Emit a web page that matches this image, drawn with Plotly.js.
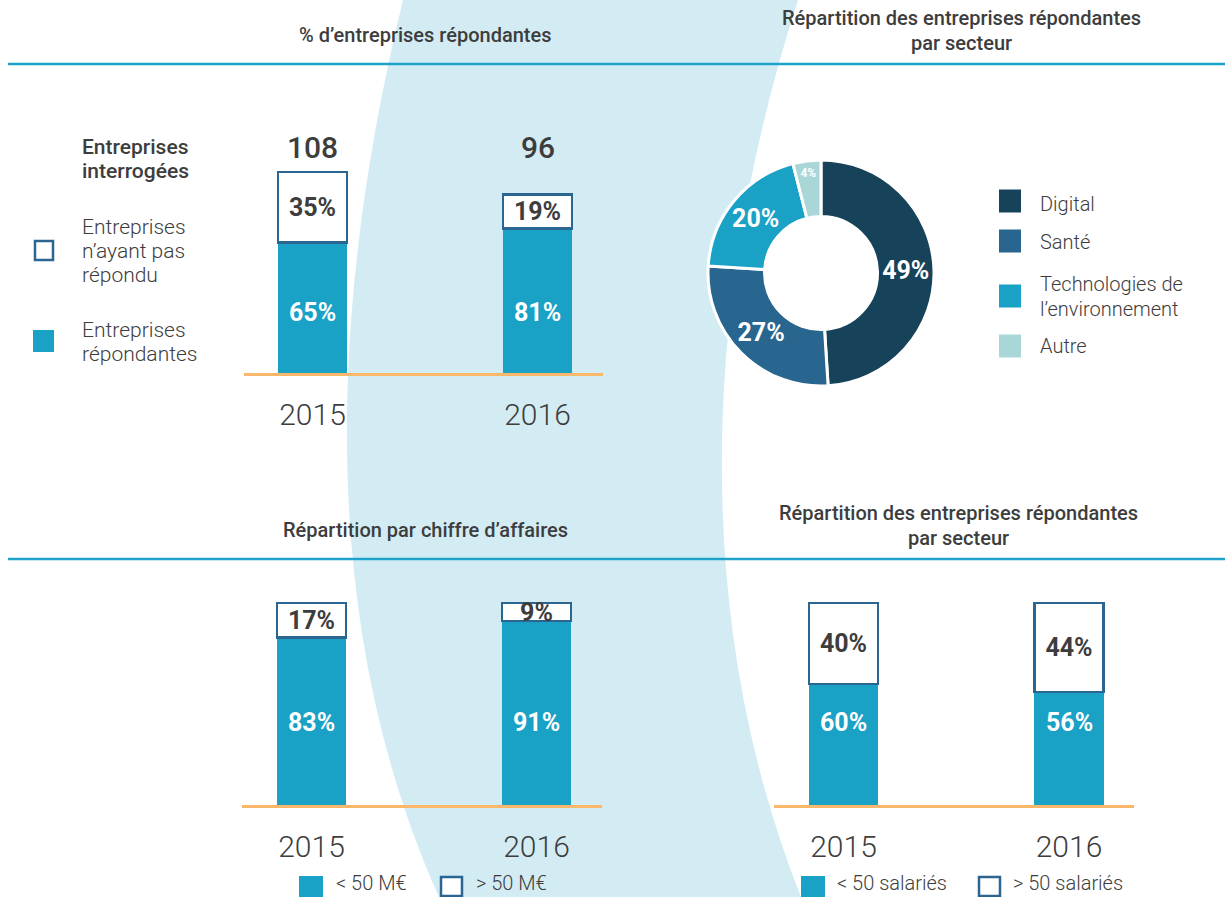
<!DOCTYPE html>
<html>
<head>
<meta charset="utf-8">
<script src="https://cdn.plot.ly/plotly-3.0.1.min.js"></script>
<style>html,body{margin:0;padding:0;background:#fff;}#chart{width:1225px;height:897px;}</style>
</head>
<body>
<div id="chart"></div>
<script>
// ---- DATA ----
const years = ['2015', '2016'];
const surveyedCount = [108, 96];
const respondedPct = [65, 81];
const notRespondedPct = [35, 19];
const sectorLabels = ['Digital', 'Santé', 'Technologies de l’environnement', 'Autre'];
const sectorPct = [49, 27, 20, 4];
const revenueSmallPct = [83, 91];
const revenueLargePct = [17, 9];
const staffSmallPct = [60, 56];
const staffLargePct = [40, 44];

// ---- STYLE ----
const W = 1225, H = 897;
const X = px => px / W;
const Y = py => 1 - py / H;
const FONT = 'Roboto';
const TXT = '#3d3d3d';
const BLUE = '#19a1c6';
const OUTLINE = '#2b6693';
const ORANGE = '#fbb86b';
const TEAL = '#1fa2c9';
const BAND = '#d3ecf3';
const SECTOR_COLORS = ['#16435a', '#28658f', '#19a1c6', '#a9d7d7'];
const LABEL_SIZE = 25;

const pctText = a => a.map(v => v + '%');

function barPair(xa, ya, lowVals, highVals, highPct) {
  return [
    {type: 'bar', x: years, y: lowVals, xaxis: xa, yaxis: ya, width: 0.307,
     marker: {color: BLUE, line: {width: 0}},
     hoverinfo: 'skip', showlegend: false},
    {type: 'bar', x: years, y: highVals, xaxis: xa, yaxis: ya, width: 0.307,
     marker: {color: '#ffffff', line: {color: OUTLINE, width: 2.5}},
     text: pctText(highPct), textposition: 'inside', insidetextanchor: 'middle', constraintext: 'none',
     textfont: {family: FONT, size: LABEL_SIZE, color: TXT, weight: 'bold'},
     hoverinfo: 'skip', showlegend: false}
  ];
}

const topLow = surveyedCount.map((n, i) => n * respondedPct[i] / 100);
const topHigh = surveyedCount.map((n, i) => n * notRespondedPct[i] / 100);

const traces = [
  ...barPair('x', 'y', topLow, topHigh, notRespondedPct),
  ...barPair('x2', 'y2', revenueSmallPct, revenueLargePct, revenueLargePct),
  ...barPair('x3', 'y3', staffSmallPct, staffLargePct, staffLargePct),
  {type: 'pie', values: sectorPct, labels: sectorLabels, hole: 0.5, sort: false,
   direction: 'clockwise', rotation: 0,
   marker: {colors: SECTOR_COLORS, line: {color: '#ffffff', width: 3}},
   texttemplate: '%{value}%', textposition: 'inside', insidetextorientation: 'horizontal',
   textfont: {family: FONT, size: [25, 25, 25, 12], color: '#ffffff', weight: 'bold'},
   domain: {x: [X(708), X(934)], y: [Y(386), Y(160)]},
   showlegend: false, hoverinfo: 'skip'}
];

function xaxisCfg(x0, x1, c0, c1, anchor) {
  const pxPerUnit = c1 - c0;
  return {domain: [X(x0), X(x1)], range: [(x0 - c0) / pxPerUnit, (x1 - c0) / pxPerUnit],
    type: 'category', anchor: anchor, showgrid: false, zeroline: false,
    showline: true, linecolor: ORANGE, linewidth: 2.5, ticks: '', ticklabelstandoff: 13,
    tickfont: {family: FONT, size: 30, color: TXT, weight: 300}, fixedrange: true};
}
function yaxisCfg(bottomPx, topPx, fullPx, fullVal, anchor) {
  const unit = fullPx / fullVal;
  return {domain: [Y(bottomPx), Y(topPx)], range: [0, (bottomPx - topPx) / unit],
    visible: false, anchor: anchor, fixedrange: true};
}

const ann = [];
function txt(text, x, y, opts) {
  ann.push(Object.assign({text: text, x: X(x), y: Y(y), xref: 'paper', yref: 'paper',
    showarrow: false, xanchor: 'left', yanchor: 'middle', align: 'left',
    font: {family: FONT, size: 20, color: TXT, weight: 300}}, opts || {}));
}
function lines(arr, x, ys, opts) { arr.forEach((t, i) => txt(t, x, ys[i], opts)); }

// titles
const titleFont = {family: FONT, size: 20, color: TXT, weight: 500};
const ctr = {xanchor: 'center', align: 'center', font: titleFont};
txt('% d’entreprises répondantes', 425, 35, ctr);
lines(['Répartition des entreprises répondantes', 'par secteur'], 961, [18, 43], ctr);
txt('Répartition par chiffre d’affaires', 425, 530, ctr);
lines(['Répartition des entreprises répondantes', 'par secteur'], 959, [513, 538], ctr);

// totals above top bars
years.forEach((yr, i) => {
  ann.push({text: String(surveyedCount[i]), x: i, xref: 'x', y: Y(148), yref: 'paper',
    showarrow: false, xanchor: 'center', yanchor: 'middle',
    font: {family: FONT, size: 30, color: TXT, weight: 500}});
});
// labels of the blue segments
function blueLabels(vals, xref, py) {
  vals.forEach((v, i) => ann.push({text: v + '%', x: i, xref: xref, y: Y(py), yref: 'paper',
    showarrow: false, xanchor: 'center', yanchor: 'middle',
    font: {family: FONT, size: LABEL_SIZE, color: '#ffffff', weight: 'bold'}}));
}
blueLabels(respondedPct, 'x', 312);
blueLabels(revenueSmallPct, 'x2', 722);
blueLabels(staffSmallPct, 'x3', 722);

// left legend
const legFont = {family: FONT, size: 21, color: TXT, weight: 300};
lines(['Entreprises', 'interrogées'], 80, [147, 171], {font: {family: FONT, size: 21, color: TXT, weight: 500}});
lines(['Entreprises', 'n’ayant pas', 'répondu'], 80, [227, 251, 275], {font: legFont});
lines(['Entreprises', 'répondantes'], 80, [330, 354], {font: legFont});
// donut legend
const donutFont = {family: FONT, size: 20, color: TXT, weight: 300};
lines(['Digital', 'Santé', 'Technologies de', 'l’environnement', 'Autre'], 1038,
      [204, 242, 284, 309, 346], {font: donutFont});
// bottom legends (anchored to bottom edge so they are not clipped)
const botOpts = {yanchor: 'bottom', borderpad: 0};
txt('&lt; 50 M€', 335, 896, botOpts);
txt('&gt; 50 M€', 475, 896, botOpts);
txt('&lt; 50 salariés', 836, 896, botOpts);
txt('&gt; 50 salariés', 1012, 896, botOpts);

const shapes = [];
// background band
shapes.push({type: 'path', xref: 'paper', yref: 'paper', layer: 'below', line: {width: 0}, fillcolor: BAND,
  path: `M ${X(403)},${Y(0)} C ${X(330)},${Y(300)} ${X(315)},${Y(620)} ${X(439)},${Y(897)} ` +
        `L ${X(801)},${Y(897)} C ${X(691)},${Y(620)} ${X(701)},${Y(300)} ${X(798)},${Y(0)} Z`});
// teal separators
[64, 559].forEach(py => shapes.push({type: 'line', xref: 'paper', yref: 'paper', layer: 'below',
  x0: X(8), x1: X(1225), y0: Y(py), y1: Y(py), line: {color: TEAL, width: 2.5}}));
function sq(x0, y0, x1, y1, filled, color) {
  shapes.push({type: 'rect', xref: 'paper', yref: 'paper', x0: X(x0), x1: X(x1), y0: Y(y1), y1: Y(y0),
    fillcolor: filled ? color : '#ffffff', line: filled ? {width: 0} : {color: OUTLINE, width: 2.5}});
}
sq(35, 241, 53, 260, false);
sq(33, 330, 54, 352, true, BLUE);
[201, 241, 296, 346].forEach((c, i) => sq(999, c - 11.5, 1021, c + 11.5, true, SECTOR_COLORS[i]));
sq(299, 876, 323, 898, true, BLUE);
sq(441, 877, 462, 896, false);
sq(801, 876, 825, 898, true, BLUE);
sq(979, 877, 1000, 896, false);

const layout = {
  width: W, height: H, margin: {l: 0, r: 0, t: 0, b: 0},
  paper_bgcolor: '#ffffff', plot_bgcolor: 'rgba(0,0,0,0)',
  font: {family: FONT, color: TXT}, barmode: 'stack', showlegend: false,
  xaxis: xaxisCfg(244, 603, 312.5, 537.5, 'y'),
  yaxis: yaxisCfg(373, 120, 201, surveyedCount[0], 'x'),
  xaxis2: xaxisCfg(242, 602, 311.5, 536.5, 'y2'),
  yaxis2: yaxisCfg(805, 580, 202, 100, 'x2'),
  xaxis3: xaxisCfg(774, 1134, 843.5, 1069, 'y3'),
  yaxis3: yaxisCfg(805, 580, 202, 100, 'x3'),
  annotations: ann, shapes: shapes
};

Plotly.newPlot('chart', traces, layout, {displayModeBar: false, staticPlot: true});
</script>
</body>
</html>
